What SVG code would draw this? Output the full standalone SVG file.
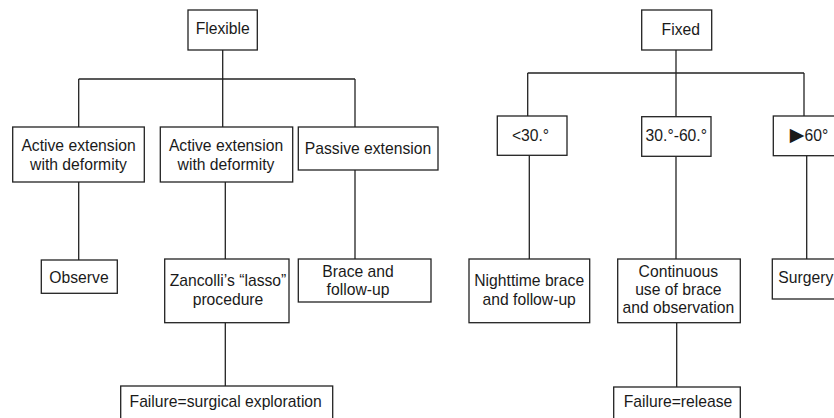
<svg xmlns="http://www.w3.org/2000/svg" width="834" height="418" viewBox="0 0 834 418">
<style>
rect.box{fill:#fff;stroke:#222;stroke-width:1.3}
.conn line{stroke:#222;stroke-width:1.3}
text{font-family:"Liberation Sans",Arial,Helvetica,sans-serif;font-size:15.7px;fill:#1a1a1a;text-anchor:middle}
</style>
<rect width="834" height="418" fill="#fff"/>
<g id="connectors" class="conn">
<line x1="222.7" y1="50" x2="222.7" y2="79"/>
<line x1="78.7" y1="79" x2="355" y2="79"/>
<line x1="78.7" y1="79" x2="78.7" y2="127"/>
<line x1="222.7" y1="79" x2="222.7" y2="127"/>
<line x1="355" y1="79" x2="355" y2="127"/>
<line x1="78.7" y1="182" x2="78.7" y2="260"/>
<line x1="225.3" y1="182" x2="225.3" y2="259"/>
<line x1="225.3" y1="322.7" x2="225.3" y2="386"/>
<line x1="355" y1="170" x2="355" y2="259"/>
<line x1="676" y1="50" x2="676" y2="73"/>
<line x1="527.7" y1="73" x2="804" y2="73"/>
<line x1="527.7" y1="73" x2="527.7" y2="116"/>
<line x1="676" y1="73" x2="676" y2="116.7"/>
<line x1="804" y1="73" x2="804" y2="116"/>
<line x1="529.3" y1="155.3" x2="529.3" y2="259"/>
<line x1="676" y1="156.3" x2="676" y2="259"/>
<line x1="806.7" y1="155.7" x2="806.7" y2="259"/>
<line x1="676.7" y1="322.7" x2="676.7" y2="387"/>
</g>
<g id="flexible"><rect class="box" x="188" y="10" width="69.3" height="40"/><text x="222.7" y="33.5">Flexible</text></g>
<g id="active1"><rect class="box" x="12.7" y="127" width="131.6" height="55"/><text x="78.5" y="151">Active extension</text><text x="78.5" y="169.5">with deformity</text></g>
<g id="active2"><rect class="box" x="160.3" y="127" width="132.4" height="55"/><text x="226" y="151">Active extension</text><text x="226" y="169.5">with deformity</text></g>
<g id="passive"><rect class="box" x="298.3" y="127" width="139.7" height="43"/><text x="368" y="154">Passive extension</text></g>
<g id="observe"><rect class="box" x="41.3" y="260" width="76" height="33.3"/><text x="79" y="282.5">Observe</text></g>
<g id="zancolli"><rect class="box" x="164.7" y="259" width="124.3" height="63.7"/><text x="228" y="286">Zancolli’s “lasso”</text><text x="228" y="305">procedure</text></g>
<g id="brace"><rect class="box" x="298.3" y="259" width="132.7" height="43"/><text x="358" y="276.5">Brace and</text><text x="358" y="295">follow-up</text></g>
<g id="failure-surgical"><rect class="box" x="120.7" y="386" width="212" height="50"/><text x="225.7" y="406.7">Failure=surgical exploration</text></g>
<g id="fixed"><rect class="box" x="641.7" y="10" width="70" height="40"/><text x="680.8" y="34.5">Fixed</text></g>
<g id="lt30"><rect class="box" x="497.3" y="116" width="69.7" height="39.3"/><text x="530.5" y="140.5">&lt;30.°</text></g>
<g id="b30-60"><rect class="box" x="641.7" y="116.7" width="69.3" height="39.6"/><text x="676.3" y="140.5">30.°-60.°</text></g>
<g id="gt60"><rect class="box" x="773.3" y="116" width="80" height="39.7"/><text x="809" y="140.5"><tspan style="font-family:'DejaVu Sans',sans-serif;font-size:19px">▶</tspan>60°</text></g>
<g id="nighttime"><rect class="box" x="469" y="259" width="120.7" height="63.7"/><text x="529.2" y="286">Nighttime brace</text><text x="529.2" y="305">and follow-up</text></g>
<g id="continuous"><rect class="box" x="617.7" y="259" width="122.6" height="63.7"/><text x="678.3" y="276.5">Continuous</text><text x="678.3" y="295">use of brace</text><text x="678.3" y="313.3">and observation</text></g>
<g id="surgery"><rect class="box" x="772.3" y="259" width="80" height="40"/><text x="778.3" y="283.3" style="text-anchor:start">Surgery</text></g>
<g id="failure-release"><rect class="box" x="613.7" y="387" width="126.6" height="50"/><text x="678" y="406.7">Failure=release</text></g>
</svg>
